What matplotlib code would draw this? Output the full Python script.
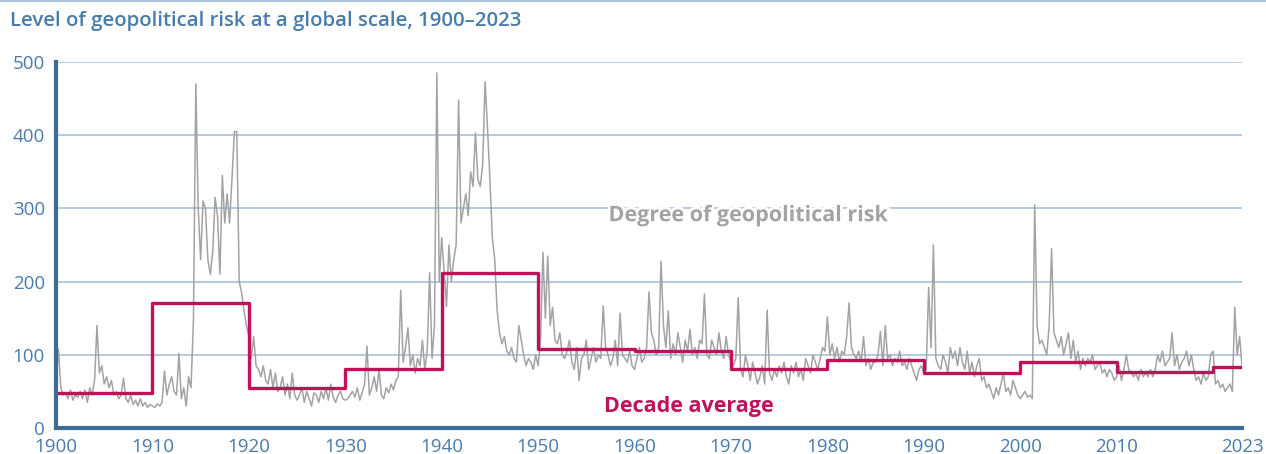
import numpy as np
import matplotlib
matplotlib.use("Agg")
import matplotlib.pyplot as plt
import matplotlib.patheffects as pe

# Quarterly estimates of the geopolitical risk index, 1900.00 ... 2023.00
gpr_values = [
    60, 108, 55, 45,      # 1900
    48, 40, 52, 38,       # 1901
    45, 42, 50, 40,       # 1902
    52, 35, 55, 45,       # 1903
    65, 140, 75, 85,      # 1904
    60, 70, 55, 65,       # 1905
    45, 50, 40, 45,       # 1906
    68, 40, 35, 45,       # 1907
    32, 38, 30, 40,       # 1908
    30, 35, 28, 32,       # 1909
    30, 28, 33, 30,       # 1910
    35, 78, 45, 60,       # 1911
    70, 50, 45, 102,      # 1912
    40, 55, 30, 70,       # 1913
    55, 145, 470, 300,    # 1914
    230, 310, 300, 230,   # 1915
    210, 240, 315, 290,   # 1916
    210, 345, 280, 320,   # 1917
    280, 340, 405, 405,   # 1918
    200, 185, 160, 140,   # 1919
    125, 95, 125, 85,     # 1920
    80, 70, 85, 65,       # 1921
    60, 80, 55, 75,       # 1922
    50, 55, 70, 45,       # 1923
    60, 40, 75, 45,       # 1924
    38, 45, 55, 35,       # 1925
    50, 40, 30, 48,       # 1926
    45, 35, 50, 40,       # 1927
    55, 38, 60, 42,       # 1928
    35, 45, 50, 40,       # 1929
    38, 40, 45, 50,       # 1930
    42, 55, 38, 48,       # 1931
    60, 112, 45, 55,      # 1932
    70, 50, 80, 45,       # 1933
    40, 55, 48, 60,       # 1934
    52, 65, 70, 188,      # 1935
    90, 110, 137, 85,     # 1936
    100, 75, 95, 85,      # 1937
    120, 80, 105, 212,    # 1938
    95, 140, 485, 200,    # 1939
    260, 215, 166, 250,   # 1940
    200, 230, 250, 448,   # 1941
    280, 300, 320, 290,   # 1942
    350, 330, 403, 340,   # 1943
    330, 360, 473, 410,   # 1944
    340, 260, 230, 161,   # 1945
    130, 115, 125, 105,   # 1946
    100, 110, 95, 90,     # 1947
    140, 120, 100, 85,    # 1948
    95, 90, 80, 100,      # 1949
    85, 120, 240, 150,    # 1950
    235, 140, 165, 120,   # 1951
    115, 130, 100, 95,    # 1952
    105, 120, 90, 80,     # 1953
    110, 65, 95, 100,     # 1954
    120, 80, 95, 110,     # 1955
    90, 100, 95, 167,     # 1956
    110, 100, 85, 95,     # 1957
    120, 85, 157, 100,    # 1958
    95, 90, 105, 85,      # 1959
    80, 95, 110, 90,      # 1960
    95, 110, 186, 130,    # 1961
    120, 100, 110, 228,   # 1962
    140, 110, 160, 95,    # 1963
    115, 100, 130, 110,   # 1964
    90, 120, 105, 135,    # 1965
    100, 110, 95, 120,    # 1966
    115, 183, 100, 95,    # 1967
    120, 110, 100, 130,   # 1968
    105, 95, 125, 100,    # 1969
    90, 85, 95, 178,      # 1970
    80, 70, 100, 85,      # 1971
    65, 90, 75, 60,       # 1972
    70, 85, 60, 161,      # 1973
    75, 65, 80, 70,       # 1974
    85, 75, 90, 70,       # 1975
    60, 85, 75, 90,       # 1976
    70, 80, 65, 95,       # 1977
    85, 75, 100, 90,      # 1978
    80, 95, 110, 105,     # 1979
    152, 100, 115, 95,    # 1980
    110, 90, 105, 100,    # 1981
    125, 171, 110, 100,   # 1982
    95, 105, 90, 125,     # 1983
    85, 95, 80, 90,       # 1984
    90, 100, 132, 85,     # 1985
    140, 95, 100, 85,     # 1986
    95, 90, 105, 85,      # 1987
    90, 80, 95, 85,       # 1988
    75, 65, 80, 85,       # 1989
    75, 80, 192, 110,     # 1990
    250, 95, 85, 80,      # 1991
    100, 90, 75, 110,     # 1992
    95, 105, 85, 110,     # 1993
    90, 80, 105, 75,      # 1994
    90, 70, 85, 95,       # 1995
    65, 70, 55, 60,       # 1996
    50, 40, 55, 45,       # 1997
    60, 75, 50, 55,       # 1998
    45, 65, 55, 45,       # 1999
    40, 45, 50, 42,       # 2000
    45, 40, 305, 140,     # 2001
    115, 120, 110, 100,   # 2002
    140, 245, 130, 120,   # 2003
    110, 125, 100, 115,   # 2004
    130, 95, 120, 90,     # 2005
    105, 80, 95, 85,      # 2006
    95, 90, 100, 80,      # 2007
    85, 90, 75, 80,       # 2008
    70, 80, 75, 65,       # 2009
    70, 85, 65, 80,       # 2010
    100, 80, 75, 70,      # 2011
    75, 65, 80, 70,       # 2012
    75, 70, 80, 70,       # 2013
    80, 100, 90, 105,     # 2014
    85, 90, 95, 130,      # 2015
    85, 100, 80, 90,      # 2016
    95, 105, 85, 100,     # 2017
    80, 65, 70, 60,       # 2018
    75, 65, 70, 100,      # 2019
    105, 60, 65, 55,      # 2020
    60, 50, 55, 60,       # 2021
    50, 165, 100, 125,    # 2022
    85,                   # 2023
]
gpr_start_year = 1900
gpr_steps_per_year = 4

decade_starts = [1900, 1910, 1920, 1930, 1940, 1950, 1960, 1970, 1980, 1990, 2000, 2010, 2020]
decade_avg = [48, 171, 55, 80, 212, 108, 105, 80, 93, 75, 90, 77, 83]
series_end_year = 2023

x_tick_years = [1900, 1910, 1920, 1930, 1940, 1950, 1960, 1970, 1980, 1990, 2000, 2010, 2023]
y_ticks = [0, 100, 200, 300, 400, 500]

title_text = "Level of geopolitical risk at a global scale, 1900\u20132023"
label_gpr = "Degree of geopolitical risk"
label_avg = "Decade average"

# ---- styling ----
BLUE_TEXT = "#4a7ba9"
BLUE_AXIS = "#3c6c98"
GRID = "#a9c1d8"
GREY = "#a3a3a3"
RED = "#c0115a"

plt.rcParams['font.family'] = ['Open Sans', 'DejaVu Sans']

fig = plt.figure(figsize=(12.66, 4.54), dpi=100)
ax = fig.add_axes([56/1266, 26/454, (1242-56)/1266, (428-62)/454])

x_gpr = gpr_start_year + np.arange(len(gpr_values)) / gpr_steps_per_year
ax.plot(x_gpr, gpr_values, color=GREY, lw=1.1, zorder=3, solid_joinstyle='round')

edges = decade_starts + [series_end_year]
ax.plot(edges, decade_avg + [decade_avg[-1]], drawstyle='steps-post',
        color=RED, lw=2.4, zorder=4)

ax.set_xlim(1900, 2023)
ax.set_ylim(0, 500)
ax.set_yticks(y_ticks)
ax.set_xticks(x_tick_years)
ax.set_xticklabels([str(y) for y in x_tick_years])
ax.tick_params(length=0, labelsize=13.5, labelcolor=BLUE_TEXT)
ax.tick_params(axis='y', pad=8)
ax.tick_params(axis='x', pad=7)

ax.grid(axis='y', color=GRID, lw=1.2, zorder=1)
ax.set_axisbelow(True)

for s in ['top', 'right']:
    ax.spines[s].set_visible(False)
ax.spines['left'].set_color(BLUE_AXIS)
ax.spines['left'].set_linewidth(3)
ax.spines['bottom'].set_color(BLUE_AXIS)
ax.spines['bottom'].set_linewidth(3)
ax.spines['left'].set_zorder(5)
ax.spines['bottom'].set_zorder(5)

ax.text(1957.3, 290, label_gpr, color=GREY, fontsize=15.5, fontweight='bold',
        ha='left', va='center', zorder=6,
        path_effects=[pe.withStroke(linewidth=4, foreground='white')])
ax.text(1956.8, 29, label_avg, color=RED, fontsize=15.5, fontweight='bold',
        ha='left', va='center', zorder=6)

fig.text(10/1266, 1 - 21/454, title_text, color=BLUE_TEXT, fontsize=14.7,
         fontweight='semibold', ha='left', va='center')

# thin rule along the top edge of the figure
fig.add_artist(plt.Line2D([0, 1], [1 - 0.8/454, 1 - 0.8/454], color=GRID, lw=1.5,
                          transform=fig.transFigure))

fig.savefig("out.png", dpi=100, facecolor='white')
